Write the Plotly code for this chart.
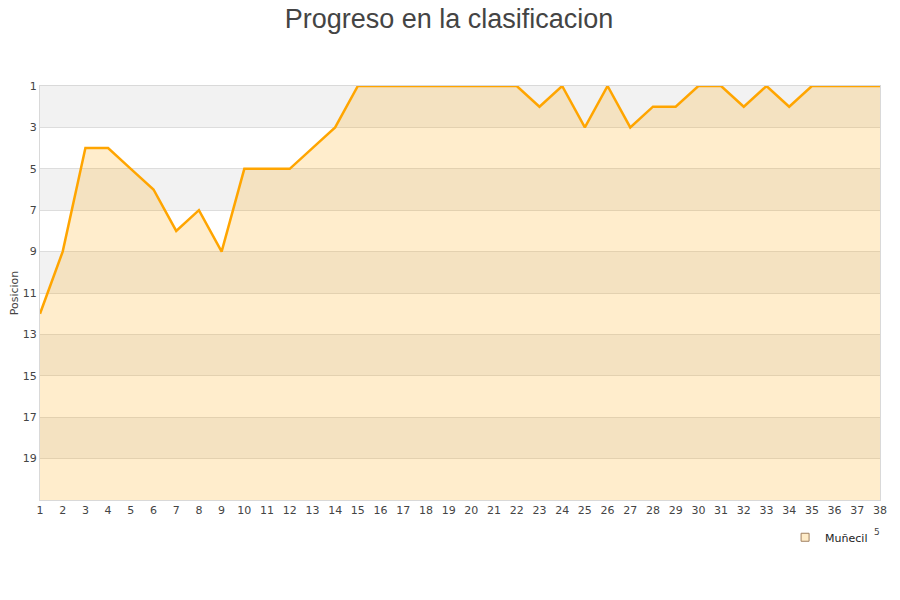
import plotly.graph_objects as go

jornadas = list(range(1, 39))
posiciones = [12, 9, 4, 4, 5, 6, 8, 7, 9, 5,
              5, 5, 4, 3, 1, 1, 1, 1, 1, 1,
              1, 1, 2, 1, 3, 1, 3, 2, 2, 1,
              1, 2, 1, 2, 1, 1, 1, 1]
team = "Muñecil"
y_ticks = [1, 3, 5, 7, 9, 11, 13, 15, 17, 19]
y_min, y_max = 1, 21

fig = go.Figure()

# baseline for area fill (bottom of the axis)
fig.add_trace(go.Scatter(x=jornadas, y=[y_max] * len(jornadas), mode="lines",
                         line=dict(width=0, color="rgba(0,0,0,0)"),
                         showlegend=False, hoverinfo="skip"))
fig.add_trace(go.Scatter(x=jornadas, y=posiciones, mode="lines",
                         line=dict(color="#ffa500", width=2.5),
                         fill="tonexty", fillcolor="rgba(255,165,0,0.2)",
                         showlegend=False, name=team))
# legend entry
fig.add_trace(go.Scatter(x=[None], y=[None], mode="markers", name=team,
                         marker=dict(symbol="square", size=8, color="#ffecc8",
                                     line=dict(color="#a08060", width=1))))

shapes = []
for s in range(y_min, y_max, 4):
    shapes.append(dict(type="rect", xref="paper", yref="y", x0=0, x1=1,
                       y0=s, y1=s + 2, fillcolor="#f2f2f2", line=dict(width=0),
                       layer="below"))

fig.update_layout(
    width=900, height=600,
    margin=dict(l=32, r=28, t=78, b=108),
    paper_bgcolor="white", plot_bgcolor="white",
    title=dict(text="Progreso en la clasificacion", x=0.49, xanchor="center",
               y=0.998, yanchor="top", pad=dict(t=0, b=0),
               font=dict(family="Liberation Sans, Arial, sans-serif", size=27, color="#444444")),
    font=dict(family="DejaVu Sans, Verdana, sans-serif", size=11, color="#444444"),
    shapes=shapes,
    showlegend=True,
    legend=dict(x=0.887, y=-0.09, xanchor="left", yanchor="middle",
                bgcolor="rgba(0,0,0,0)", font=dict(size=11, color="#222222"),
                itemwidth=30),
    annotations=[dict(text="5", xref="paper", yref="paper", x=1.002, y=-0.095,
                      showarrow=False, font=dict(size=9, color="#444444"))],
)
fig.update_xaxes(range=[1, 38], tickmode="array", tickvals=jornadas,
                 ticktext=[str(j) for j in jornadas], showgrid=False,
                 showline=True, linecolor="#d9d9d9", linewidth=1, mirror=True,
                 ticks="", zeroline=False, tickfont=dict(size=11), automargin=False)
fig.update_yaxes(range=[y_max, y_min], tickmode="array", tickvals=y_ticks,
                 showgrid=True, gridcolor="#dddddd", gridwidth=1,
                 showline=True, linecolor="#d9d9d9", linewidth=1, mirror=True,
                 ticks="", zeroline=False, automargin=False,
                 title=dict(text="Posicion", font=dict(size=11), standoff=11))

fig.write_html("out.html")
